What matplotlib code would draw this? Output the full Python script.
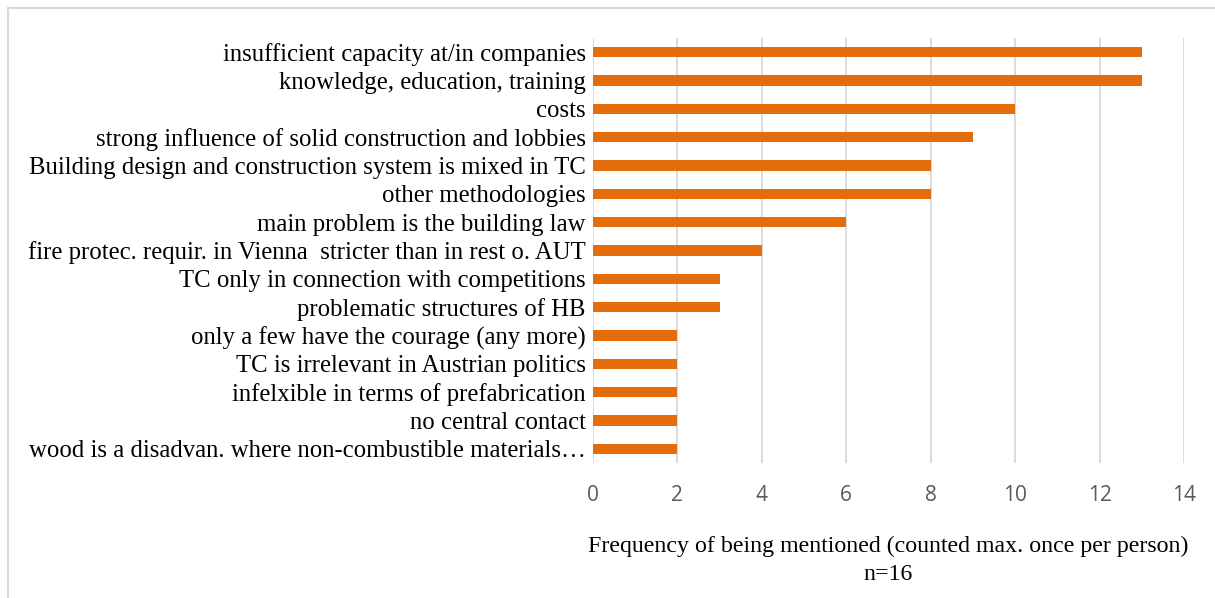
import matplotlib.pyplot as plt
from matplotlib.lines import Line2D

categories = [
    "insufficient capacity at/in companies",
    "knowledge, education, training",
    "costs",
    "strong influence of solid construction and lobbies",
    "Building design and construction system is mixed in TC",
    "other methodologies",
    "main problem is the building law",
    "fire protec. requir. in Vienna  stricter than in rest o. AUT",
    "TC only in connection with competitions",
    "problematic structures of HB",
    "only a few have the courage (any more)",
    "TC is irrelevant in Austrian politics",
    "infelxible in terms of prefabrication",
    "no central contact",
    "wood is a disadvan. where non-combustible materials\u2026",
]
counts = [13, 13, 10, 9, 8, 8, 6, 4, 3, 3, 2, 2, 2, 2, 2]
xticks = [0, 2, 4, 6, 8, 10, 12, 14]

fig = plt.figure(figsize=(12.15, 5.98), dpi=100)
ax = fig.add_axes([0.488, 0.2258, 0.4865, 0.7107])

y = list(range(len(categories)))
ax.barh(y, counts, height=0.36, color="#E46C0A", zorder=3)
ax.set_ylim(len(categories) - 0.5, -0.5)
ax.set_xlim(0, 14)

ax.set_yticks(y)
ax.set_yticklabels(categories, fontfamily="Liberation Serif", fontsize=17.8)
ax.set_xticks(xticks)
ax.set_xticklabels([str(t) for t in xticks], fontfamily="Open Sans", fontsize=15, color="#595959")
ax.tick_params(axis="both", length=0)
ax.tick_params(axis="x", pad=16)
ax.tick_params(axis="y", pad=5)
ax.grid(axis="x", color="#D9D9D9", linewidth=1.3, zorder=0)
for s in ax.spines.values():
    s.set_visible(False)

fig.text(0.731, 1 - 546 / 598, "Frequency of being mentioned (counted max. once per person)",
         ha="center", va="center", fontfamily="Liberation Serif", fontsize=17.2)
fig.text(0.731, 1 - 574 / 598, "n=16",
         ha="center", va="center", fontfamily="Liberation Serif", fontsize=17.2)

# outer frame (top and left edges visible)
fig.add_artist(Line2D([8 / 1215, 1], [1 - 8 / 598, 1 - 8 / 598], color="#D9D9D9", linewidth=1.5))
fig.add_artist(Line2D([8 / 1215, 8 / 1215], [0, 1 - 8 / 598], color="#D9D9D9", linewidth=1.5))

fig.savefig("out.png", dpi=100)
